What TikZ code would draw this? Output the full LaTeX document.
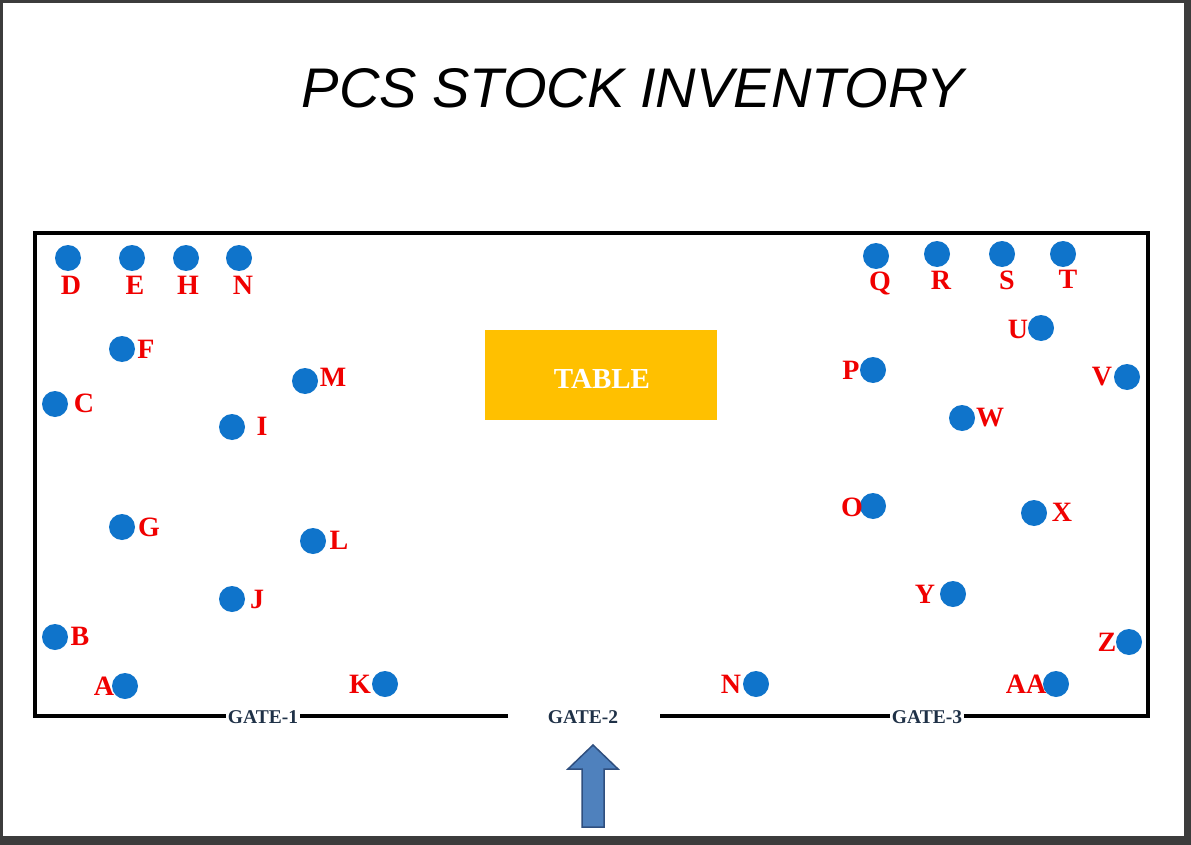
\documentclass[tikz,border=0pt]{standalone}
\usepackage{fontspec}
\usepackage{graphicx}
\setmainfont{Liberation Serif}
\newfontfamily\titlefont{Liberation Sans}
\definecolor{frame}{HTML}{3C3C3C}
\definecolor{dotblue}{HTML}{0F74CB}
\definecolor{lblred}{HTML}{F00000}
\definecolor{tablegold}{HTML}{FFC000}
\definecolor{gatenavy}{HTML}{1F3147}
\definecolor{arrowfill}{HTML}{4F81BD}
\definecolor{arrowline}{HTML}{2F4F7F}
\tikzset{
  dot/.style={circle,fill=dotblue,draw=none,minimum size=26pt,inner sep=0pt},
  lbl/.style={text=lblred,font=\fontsize{28}{28}\selectfont\bfseries,inner sep=0pt,text height=19pt,text depth=0pt},
  gate/.style={text=gatenavy,font=\fontsize{19.5}{20}\selectfont\bfseries,fill=white,inner xsep=2pt,inner ysep=1pt,text height=13pt,text depth=0pt},
  wall/.style={line width=4pt,black,line cap=butt,line join=miter}
}
\begin{document}
\begin{tikzpicture}[x=1pt,y=1pt]
\useasboundingbox (0,0) rectangle (1191,-845);
\fill[frame] (0,0) rectangle (1191,-845);
\fill[white] (3,-3) rectangle (1184,-836);
% title
\node[inner sep=0pt] (title) at (633,-88) {\resizebox{662pt}{39pt}{\titlefont\itshape PCS STOCK INVENTORY}};
% room walls
\coordinate (g2l) at (508,-716);
\coordinate (g2r) at (660,-716);
\draw[wall] (g2l) -- (35,-716) -- (35,-233) -- (1148,-233) -- (1148,-716) -- (g2r);
% gate labels
\node[gate] (gate1) at (263,-717) {GATE-1};
\node[gate,fill=none] (gate2) at (583,-717) {GATE-2};
\node[gate] (gate3) at (927,-717) {GATE-3};
% table
\node[fill=tablegold,minimum width=232pt,minimum height=90pt,inner sep=0pt] (table) at (601,-375) {};
\node[text=white,font=\fontsize{29}{29}\selectfont\bfseries,inner sep=0pt,text height=20pt,text depth=0pt] (tabletext) at (602,-378) {TABLE};
% entry arrow
\fill[arrowfill,draw=arrowline,line width=1.5pt,line join=miter]
  (593,-745) -- (618,-769) -- (604,-769) -- (604,-827) -- (582,-827) -- (582,-769) -- (568,-769) -- cycle;
% dots
\foreach \n/\x/\y in {D/68/258,E/132/258,H/186/258,N1/239/258,F/122/349,M/305/381,C/55/404,I/232/427,
  G/122/527,L/313/541,J/232/599,B/55/637,A/125/686,K/385/684,N2/756/684,AA/1056/684,
  Q/876/256,R/937/254,S/1002/254,T/1063/254,U/1041/328,P/873/370,V/1127/377,W/962/418,
  O/873/506,X/1034/513,Y/953/594,Z/1129/642}
  {\node[dot] (d\n) at (\x,-\y) {};}
% labels
\foreach \n/\t/\x/\y in {D/D/71/285,E/E/135/285,H/H/188/285,N1/N/243/285,F/F/146/349,M/M/333/377,
  C/C/84/403,I/I/262/426,G/G/149/527,L/L/339/540,J/J/257/599,B/B/80/636,A/A/104/686,K/K/360/684,
  N2/N/731/684,AA/AA/1026/684,Q/Q/880/281,R/R/941/280,S/S/1007/280,T/T/1068/279,U/U/1018/329,
  P/P/851/370,V/V/1102/376,W/W/990/417,O/O/852/507,X/X/1062/512,Y/Y/925/594,Z/Z/1107/642}
  {\node[lbl] (l\n) at (\x,-\y) {\t};}
\end{tikzpicture}
\end{document}
